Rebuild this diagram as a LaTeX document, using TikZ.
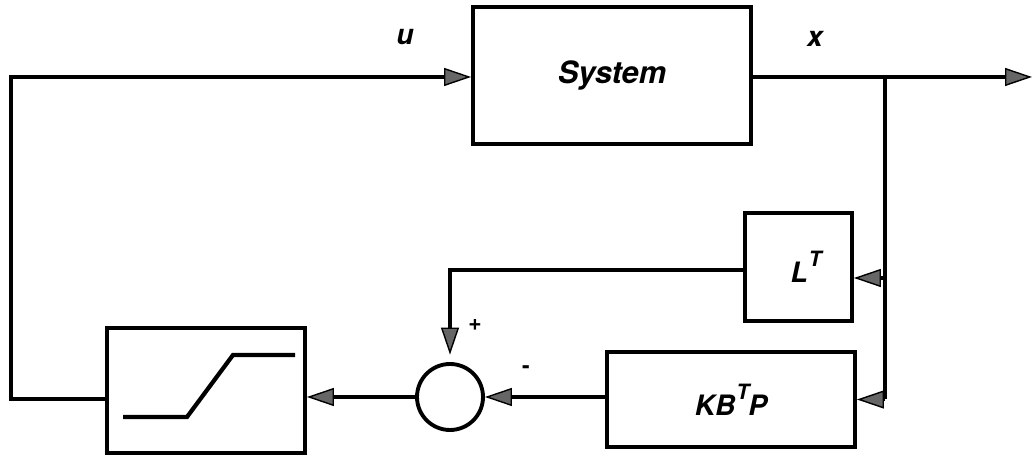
\documentclass[tikz,border=0pt]{standalone}
\usepackage{fontspec}
\setsansfont{TeX Gyre Heros}
\usetikzlibrary{arrows.meta}
\newcommand{\supT}{\raisebox{1.05ex}{\fontsize{12}{14}\selectfont T}}
\tikzset{
	blk/.style={draw,line width=2.2pt,font=\sffamily\bfseries\itshape\fontsize{16}{19}\selectfont},
	lbl/.style={font=\sffamily\bfseries\itshape\fontsize{16}{19}\selectfont},
	arr/.style={line width=2pt,-{Triangle[length=5.4mm,width=3.6mm,fill=black!60,line width=0.8pt]}},
	wire/.style={line width=2pt}
}
\begin{document}
\begin{tikzpicture}
		\useasboundingbox (0,0) rectangle (20.66,9.16);
		
		% Blocks
		\node[blk,minimum width=5.56cm,minimum height=2.74cm,font=\sffamily\bfseries\itshape\fontsize{17.5}{21}\selectfont] (sys) at (12.24,7.65) {System};
		\node[blk,minimum width=2.14cm,minimum height=2.16cm] (lt) at (15.97,3.82) {\hspace*{3mm}L\kern0.5pt\supT};
		\node[blk,minimum width=4.96cm,minimum height=1.9cm] (kbp) at (14.62,1.17) {KB\kern0.5pt\supT\kern-0.5pt P};
		\node[blk,circle,minimum size=1.32cm] (sum) at (9.0,1.22) {};
		\node[blk,minimum width=3.96cm,minimum height=2.5cm] (sat) at (4.12,1.35) {};
		
		% Saturation curve
		\draw[line width=2.4pt] (2.46,0.82) -- (3.74,0.82) -- (4.66,2.06) -- (5.9,2.06);
		
		% Points of the wires
		\coordinate (br) at (17.7,7.62);
		\coordinate (out) at (20.64,7.62);
		\coordinate (lc) at (0.22,7.62);
		
		% Wires
		\draw[arr] (sys.east |- br) -- (out);
		\draw[wire] (br) -- (br |- kbp.east);
		\draw[arr] (br |- 0,3.6) -- (lt.east |- 0,3.6);
		\draw[arr] (br |- kbp.east) -- (kbp.east);
		\draw[arr] (lt.west |- 0,3.76) -| ([yshift=1.5mm]sum.north);
		\draw[arr] (kbp.west |- sum.east) -- (sum.east);
		\draw[arr] (sum.west) -- (sum.west -| sat.east);
		\draw[arr] (sat.west |- 0,1.18) -| (lc) -- (sys.west |- lc);
		
		% Labels
		\node[lbl] (u) at (8.1,8.42) {u};
		\node[lbl] (x) at (16.3,8.38) {x};
		\node[lbl,font=\sffamily\bfseries\fontsize{13}{15}\selectfont] (plus) at (9.5,2.66) {+};
		\node[lbl,font=\sffamily\bfseries\fontsize{13}{15}\selectfont] (minus) at (10.52,1.76) {-};

	\end{tikzpicture}
\end{document}
